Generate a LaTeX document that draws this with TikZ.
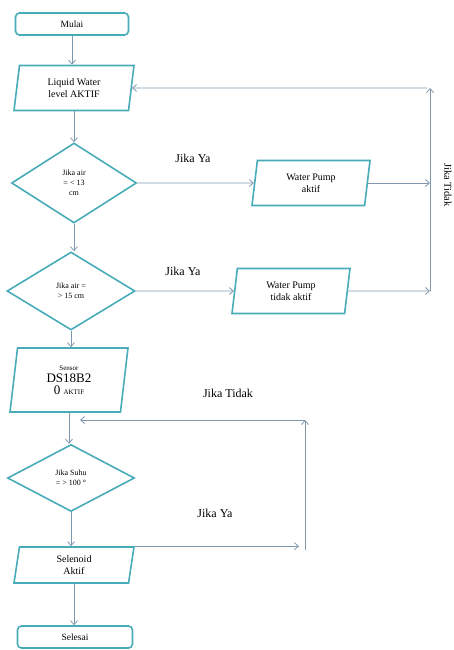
\documentclass[tikz,border=0pt]{standalone}
\usepackage{fontspec}
\setmainfont{Liberation Serif}
\usetikzlibrary{shapes.geometric,arrows.meta}
\definecolor{garisbox}{RGB}{72,172,184}
\definecolor{garispanah}{RGB}{128,152,174}

\begin{document}
\begin{tikzpicture}[x=1pt,y=-1pt]
\tikzstyle{terminal}=[draw=garisbox,line width=1.6pt,rounded corners=4pt,minimum width=113pt,minimum height=22pt,font=\fontsize{9.5}{11}\selectfont];
\tikzstyle{io}=[draw=garisbox,line width=1.6pt,trapezium,trapezium left angle=78,trapezium right angle=102,trapezium stretches body,minimum width=120pt,minimum height=45pt,align=center,font=\fontsize{10}{12}\selectfont];
\tikzstyle{decision}=[draw=garisbox,line width=1.6pt,diamond,align=center,inner sep=0pt,font=\fontsize{8}{10}\selectfont];
\tikzstyle{flow}=[draw=garispanah,line width=0.8pt,-{Straight Barb[length=4pt,width=7pt]}];
\tikzstyle{jika}=[font=\fontsize{12}{14}\selectfont];
\useasboundingbox (0,0) rectangle (453,650);

% simbol alur
\node[terminal] (mulai) at (72,24) {Mulai};
\node[io] (liquid) at (74,88) {Liquid Water\\level AKTIF};
\node[decision,minimum width=125pt,minimum height=80pt] (cek13) at (74,183) {Jika air\\= < 13\\cm};
\node[decision,minimum width=128pt,minimum height=78pt] (cek15) at (71,291) {Jika air =\\> 15 cm};
\node[io,minimum width=118pt] (pumpon) at (311,183) {Water Pump\\aktif};
\node[io,minimum width=118pt] (pumpoff) at (291,291) {Water Pump\\tidak aktif};
\node[io,minimum width=118pt,minimum height=64pt] (sensor) at (69,380) {{\fontsize{7}{8}\selectfont Sensor}\\{\fontsize{13}{14}\selectfont DS18B2}\\{\fontsize{13}{14}\selectfont 0 {\fontsize{7}{8}\selectfont AKTIF}}};
\node[decision,minimum width=127pt,minimum height=67pt] (ceksuhu) at (71,478) {Jika Suhu\\= > 100 °};
\node[io,minimum height=36pt] (selenoid) at (74,565) {Selenoid\\Aktif};
\node[terminal,minimum width=115pt] (selesai) at (75,637) {Selesai};

% titik bantu
\coordinate (kanan1) at (430,88);
\coordinate (kanan2) at (430,291);
\coordinate (kanan3) at (305,420);
\coordinate (kanan4) at (305,550);
\coordinate (masuk) at (80,420);

% panah turun
\draw[flow] (mulai.south) -- (mulai.south |- liquid.north);
\draw[flow] (liquid.south) -- (liquid.south |- cek13.north);
\draw[flow] (cek13.south) -- (cek13.south |- cek15.north);
\draw[flow] (cek15.south) -- (cek15.south |- sensor.north);
\draw[flow] (sensor.south) -- (sensor.south |- ceksuhu.north);
\draw[flow] (ceksuhu.south) -- (ceksuhu.south |- selenoid.north);
\draw[flow] (selenoid.south) -- (selenoid.south |- selesai.north);

% cabang
\draw[flow] (cek13.east) -- (pumpon.west);
\draw[flow] (cek15.east) -- (pumpoff.west);
\draw[flow] (pumpon.east) -- (pumpon.east -| kanan2);
\draw[flow] (pumpoff.east) -- (kanan2);
\draw[flow] (kanan2) -- (kanan1);
\draw[flow,shorten <=3pt] (kanan1) -- (liquid.east);
\draw[flow,shorten >=6pt] (selenoid.top right corner) -- (selenoid.top right corner -| kanan4);
\draw[flow] (kanan4) -- (kanan3);
\draw[flow] (kanan3) -- (masuk);

% keterangan
\node[jika] (ya1) at (193,158) {Jika Ya};
\node[jika] (ya2) at (183,271) {Jika Ya};
\node[jika,rotate=-90,font=\fontsize{10.5}{12}\selectfont] (tidak1) at (448,185) {Jika Tidak};
\node[jika] (tidak2) at (228,393) {Jika Tidak};
\node[jika] (ya3) at (215,513) {Jika Ya};
\end{tikzpicture}
\end{document}
